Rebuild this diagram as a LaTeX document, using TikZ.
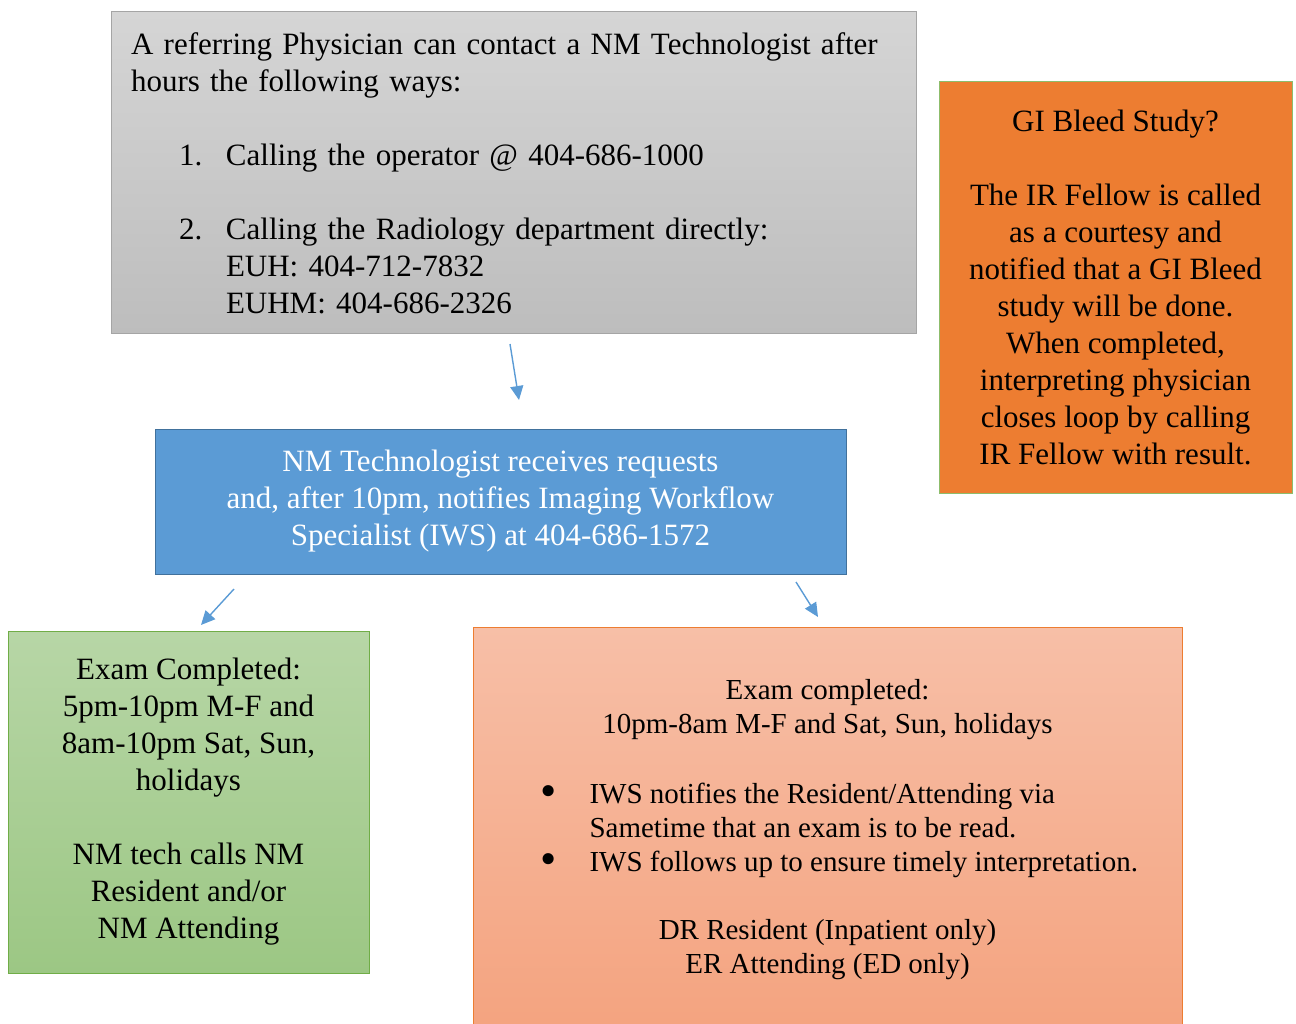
\documentclass[tikz,border=0pt]{standalone}
\usepackage{fontspec}
\setmainfont{Liberation Serif}
\usetikzlibrary{arrows.meta}
\definecolor{grayline}{HTML}{A5A5A5}
\definecolor{graytop}{HTML}{D5D5D5}
\definecolor{graybot}{HTML}{BDBDBD}
\definecolor{bluefill}{HTML}{5B9BD5}
\definecolor{blueline}{HTML}{41719C}
\definecolor{orangefill}{HTML}{ED7D31}
\definecolor{greenline}{HTML}{70AD47}
\definecolor{greentop}{HTML}{B7D6A6}
\definecolor{greenbot}{HTML}{9CC784}
\definecolor{salmontop}{HTML}{F7BFA7}
\definecolor{salmonbot}{HTML}{F4A37F}
\newcommand{\bigdot}{\raisebox{-3pt}{\scalebox{1.6}{\textbullet}}}
\begin{document}
\begin{tikzpicture}[
  x=1pt, y=-1pt,
  every node/.style={align=center, inner sep=0pt},
  boxnode/.style={draw, line width=1pt, minimum width=#1},
  bigtext/.style={font=\fontsize{31}{37}\selectfont},
  smalltext/.style={font=\fontsize{29}{34}\selectfont},
  flowarrow/.style={draw=bluefill, line width=1.4pt, -{Triangle[length=14pt, width=13pt]}}
]
\useasboundingbox (0,0) rectangle (1296,1024);
\clip (0,0) rectangle (1296,1024);

\node[boxnode=805pt, minimum height=322pt, draw=grayline, top color=graytop, bottom color=graybot,
  bigtext, align=left, text width=765pt, inner xsep=20pt] (ways) at (513.5,173)
  {A referring Physician can contact a NM Technologist after\\
   hours the following ways:\\[37pt]
   \hspace*{48pt}\makebox[47pt][l]{1.}Calling the operator @ 404-686-1000\\[37pt]
   \hspace*{48pt}\makebox[47pt][l]{2.}Calling the Radiology department directly:\\
   \hspace*{95pt}EUH: 404-712-7832\\
   \hspace*{95pt}EUHM: 404-686-2326};

\node[boxnode=691pt, minimum height=145pt, draw=blueline, fill=bluefill, text=white,
  bigtext] (tech) at (500.5,501.5)
  {NM Technologist receives requests\\
   and, after 10pm, notifies Imaging Workflow\\
   Specialist (IWS) at 404-686-1572};

\node[boxnode=353pt, minimum height=411pt, draw=greenline!80, fill=orangefill,
  bigtext] (bleed) at (1115.5,287.5)
  {GI Bleed Study?\\[37pt]
   The IR Fellow is called\\
   as a courtesy and\\
   notified that a GI Bleed\\
   study will be done.\\
   When completed,\\
   interpreting physician\\
   closes loop by calling\\
   IR Fellow with result.};

\node[boxnode=361pt, minimum height=342pt, draw=greenline, top color=greentop, bottom color=greenbot,
  bigtext] (early) at (188.5,802)
  {Exam Completed:\\
   5pm-10pm M-F and\\
   8am-10pm Sat, Sun,\\
   holidays\\[37pt]
   NM tech calls NM\\
   Resident and/or\\
   NM Attending};

\node[boxnode=709pt, minimum height=406pt, draw=orangefill, top color=salmontop, bottom color=salmonbot,
  smalltext] (late) at (827.5,830)
  {Exam completed:\\
   10pm-8am M-F and Sat, Sun, holidays\\[36pt]
   \makebox[574pt][l]{\makebox[49pt][l]{\bigdot}IWS notifies the Resident/Attending via}\\
   \makebox[574pt][l]{\hspace*{49pt}Sametime that an exam is to be read.}\\
   \makebox[574pt][l]{\makebox[49pt][l]{\bigdot}IWS follows up to ensure timely interpretation.}\\[34pt]
   DR Resident (Inpatient only)\\
   ER Attending (ED only)};

\coordinate (a1) at (510,344);
\coordinate (b1) at (519,400);
\coordinate (a2) at (234,589);
\coordinate (b2) at (201,625);
\coordinate (a3) at (796,582);
\coordinate (b3) at (818,617);
\draw[flowarrow] (a1) -- (b1);
\draw[flowarrow] (a2) -- (b2);
\draw[flowarrow] (a3) -- (b3);

\end{tikzpicture}
\end{document}
